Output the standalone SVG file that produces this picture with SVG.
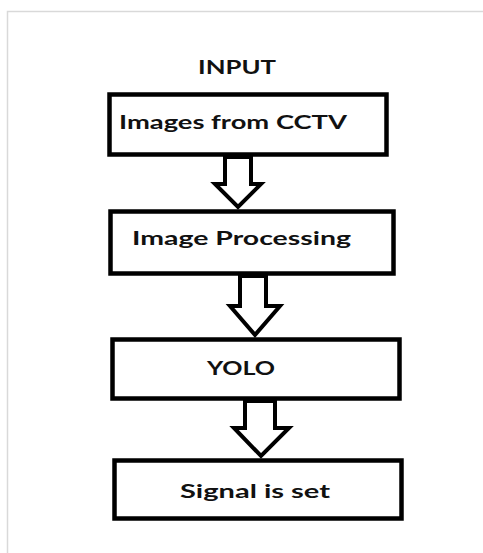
<svg xmlns="http://www.w3.org/2000/svg" width="483" height="553" viewBox="0 0 483 553">
<style>
.box{fill:#fff;stroke:#000;stroke-width:4.5}
.arr{fill:#fff;stroke:#000;stroke-width:4;stroke-linejoin:miter}
.t{font-family:Lato,"Open Sans","Liberation Sans",sans-serif;font-weight:bold;font-size:18px;fill:#111}
</style>
<rect width="483" height="553" fill="#fff"/>
<path d="M7.5,553 V11.5 H483" fill="none" stroke="#d9d9d9" stroke-width="1.5"/>
<text class="t" x="198" y="74" textLength="78" lengthAdjust="spacingAndGlyphs">INPUT</text>
<g id="connectors">
<polygon class="arr" points="225,157 251,157 251,184 261,184 238,207 215,184 225,184"/>
<polygon class="arr" points="240,276 266,276 266,306 280,306 255,335 230,306 240,306"/>
<polygon class="arr" points="245,401 275,401 275,428 289,428 261,456 234,428 245,428"/>
</g>
<g id="node1">
<rect class="box" x="109.5" y="94.5" width="277" height="60"/>
<text class="t" x="119" y="129" textLength="228" lengthAdjust="spacingAndGlyphs">Images from CCTV</text>
</g>
<g id="node2">
<rect class="box" x="110.5" y="211.5" width="283" height="62"/>
<text class="t" x="132" y="245" textLength="219" lengthAdjust="spacingAndGlyphs">Image Processing</text>
</g>
<g id="node3">
<rect class="box" x="112.5" y="339.5" width="287" height="59"/>
<text class="t" x="207" y="375" textLength="68" lengthAdjust="spacingAndGlyphs">YOLO</text>
</g>
<g id="node4">
<rect class="box" x="114.5" y="460.5" width="287" height="58"/>
<text class="t" x="180" y="498" textLength="150" lengthAdjust="spacingAndGlyphs">Signal is set</text>
</g>
</svg>
